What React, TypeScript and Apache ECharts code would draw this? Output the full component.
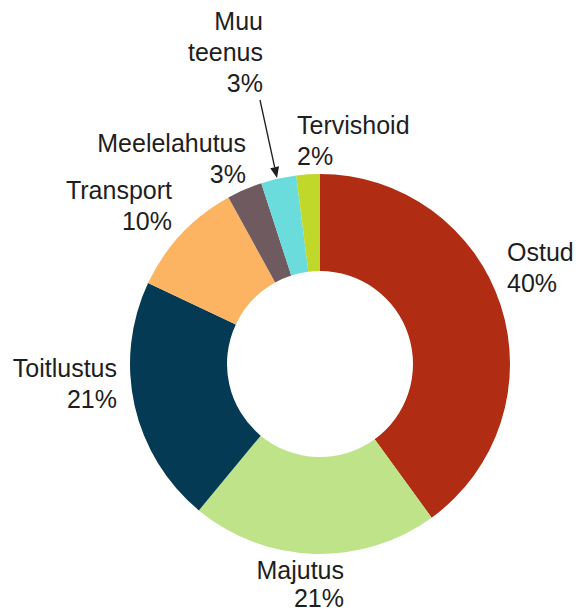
import React, { useEffect, useRef } from "react";
import * as echarts from "echarts";

const categories = ["Ostud", "Majutus", "Toitlustus", "Transport", "Meelelahutus", "Muu teenus", "Tervishoid"];
const shares = [40, 21, 21, 10, 3, 3, 2];
const colors = ["#B02D14", "#BFE388", "#053A55", "#FDB462", "#6F5A5F", "#6ADCDC", "#C0D82A"];

// label anchor layout (x, y of block middle, alignment, line height)
const labelX = [507, 344, 117, 172, 246, 263, 297];
const labelY = [267, 584, 383, 205, 158, 52, 140];
const labelAlign = ["left", "right", "right", "right", "right", "right", "left"];
const labelLineHeight = [31, 28, 31, 31, 31, 31, 31];

const FONT = "'Liberation Sans', Arial, sans-serif";

export default function App() {
  const ref = useRef<HTMLDivElement>(null);
  useEffect(() => {
    document.body.style.margin = "0";
    const chart = echarts.init(ref.current!, null, { renderer: "svg" });
    const tip = [277, 178];
    const start = [260, 100];
    const dx = tip[0] - start[0];
    const dy = tip[1] - start[1];
    const len = Math.sqrt(dx * dx + dy * dy);
    const ux = dx / len;
    const uy = dy / len;
    const headLen = 11;
    const headHalf = 4.5;
    const bx = tip[0] - ux * headLen;
    const by = tip[1] - uy * headLen;

    const labels = categories.map((name, i) => ({
      type: "text",
      x: labelX[i],
      y: labelY[i],
      silent: true,
      style: {
        text: `${name.replace(" ", "\n")}\n${shares[i]}%`,
        fill: "#1e1e1e",
        fontSize: 25,
        fontFamily: FONT,
        lineHeight: labelLineHeight[i],
        align: labelAlign[i],
        verticalAlign: "middle",
        textAlign: labelAlign[i],
        textVerticalAlign: "middle",
      },
    }));

    chart.setOption({
      animation: false,
      backgroundColor: "#ffffff",
      textStyle: { fontFamily: FONT },
      series: [
        {
          type: "pie",
          center: [320, 364],
          radius: [93, 190],
          startAngle: 90,
          clockwise: true,
          silent: true,
          data: categories.map((name, i) => ({
            name,
            value: shares[i],
            itemStyle: { color: colors[i] },
          })),
          label: { show: false },
          labelLine: { show: false },
        },
      ],
      graphic: [
        ...labels,
        {
          type: "line",
          shape: { x1: start[0], y1: start[1], x2: bx, y2: by },
          style: { stroke: "#1e1e1e", lineWidth: 1.3 },
          silent: true,
        },
        {
          type: "polygon",
          shape: {
            points: [
              [tip[0], tip[1]],
              [bx + uy * headHalf, by - ux * headHalf],
              [bx - uy * headHalf, by + ux * headHalf],
            ],
          },
          style: { fill: "#1e1e1e" },
          silent: true,
        },
      ],
    });
    return () => chart.dispose();
  }, []);
  return (
    <div
      ref={ref}
      style={{ position: "fixed", left: 0, top: 0, width: 576, height: 612 }}
    />
  );
}
